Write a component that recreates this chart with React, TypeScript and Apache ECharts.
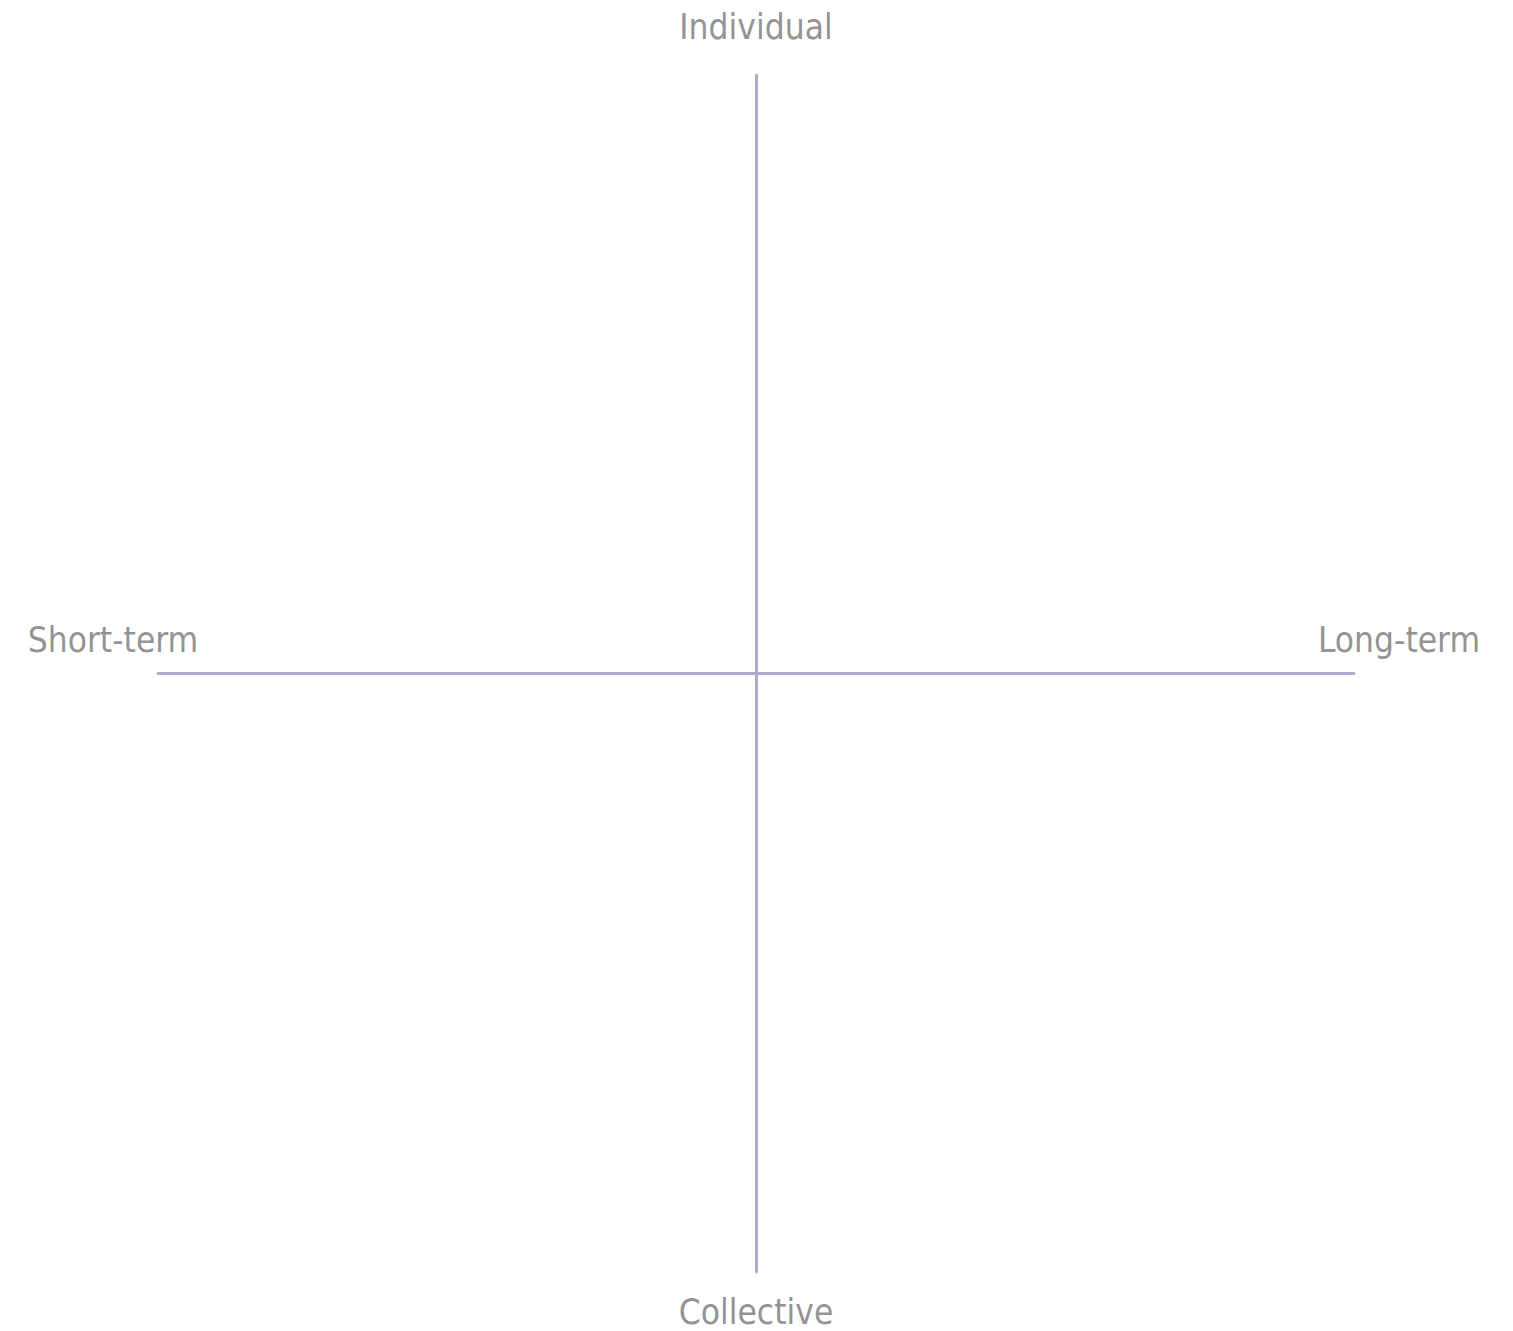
import React, { useEffect, useRef } from "react";
import * as echarts from "echarts";

const poleNames = ["Individual", "Collective", "Short-term", "Long-term"];
const poleX = [0, 0, -1, 1];
const poleY = [1, -1, 0, 0];
const labelOffsets = [
  [0, -48],
  [0, 40],
  [-45, -34],
  [45, -34],
];

export default function App() {
  const ref = useRef<HTMLDivElement>(null);
  useEffect(() => {
    if (!ref.current) return;
    const chart = echarts.init(ref.current, undefined, { renderer: "svg" });
    const axisLine = { show: true, onZero: true, lineStyle: { color: "#b0aacf", width: 3 } };
    chart.setOption({
      animation: false,
      backgroundColor: "#ffffff",
      grid: { left: 150, top: 67, width: 1196, height: 1197, containLabel: false },
      xAxis: {
        type: "value",
        min: -1,
        max: 1,
        axisLine,
        axisTick: { show: false },
        axisLabel: { show: false },
        splitLine: { show: false },
      },
      yAxis: {
        type: "value",
        min: -1,
        max: 1,
        axisLine,
        axisTick: { show: false },
        axisLabel: { show: false },
        splitLine: { show: false },
      },
      series: [
        {
          type: "scatter",
          clip: false,
          symbolSize: 1,
          itemStyle: { color: "rgba(0,0,0,0)" },
          silent: true,
          data: poleNames.map((n, i) => ({
            name: n,
            value: [poleX[i], poleY[i]],
            label: {
              show: true,
              position: "inside",
              offset: labelOffsets[i],
              formatter: n,
              color: "#767676",
              fontSize: 35,
              lineHeight: 35,
              fontFamily: "DejaVu Sans Condensed, DejaVu Sans, sans-serif",
              align: "center",
              verticalAlign: "middle",
            },
          })),
        },
      ],
    });
    return () => chart.dispose();
  }, []);
  return (
    <div
      ref={ref}
      style={{ position: "absolute", left: 8, top: 8, width: 1497, height: 1323 }}
    />
  );
}
